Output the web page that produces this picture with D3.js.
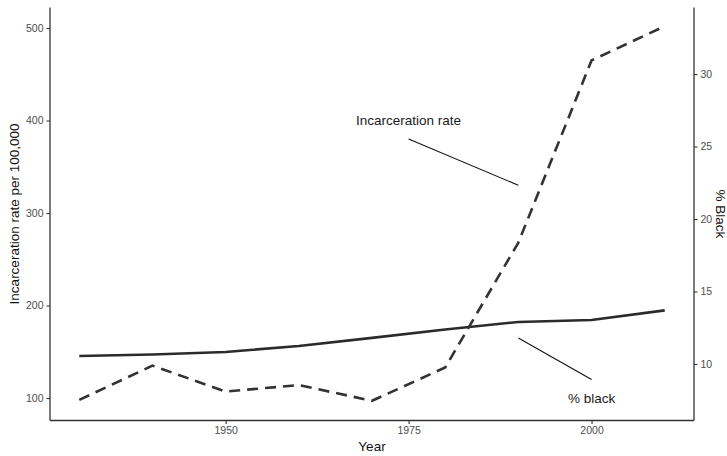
<!DOCTYPE html>
<html>
<head>
<meta charset="utf-8">
<script src="https://cdn.jsdelivr.net/npm/d3@7"></script>
<style>
  body { margin: 0; background: #fff; }
  svg { display: block; font-family: "Liberation Sans", Arial, sans-serif; }
</style>
</head>
<body>
<svg id="board" width="727" height="456"></svg>
<script>
var years = [1930, 1940, 1950, 1960, 1970, 1980, 1990, 2000, 2010];
var incarcerationRate = [98, 135, 107, 114, 97, 133, 268, 465, 502];
var percentBlack = [10.55, 10.65, 10.83, 11.24, 11.8, 12.38, 12.9, 13.03, 13.7];

var xTicks = [1950, 1975, 2000];
var leftTicks = [100, 200, 300, 400, 500];
var rightTicks = [10, 15, 20, 25, 30];

var labels = [
  { text: 'Incarceration rate', year: 1975, value: 400 },
  { text: '% black', year: 2000, value: 100 }
];
var pointers = [
  { from: [1975, 380], to: [1990, 330] },
  { from: [1990, 165], to: [2000, 120] }
];

var panel = { left: 50, right: 694, top: 7.4, bottom: 420.5 };

var board = d3.select('#board');

var x = d3.scaleLinear().domain([1926, 2014]).range([panel.left, panel.right]);
var yLeft = d3.scaleLinear().domain([75.7, 522.3]).range([panel.bottom, panel.top]);
var yRight = d3.scaleLinear().domain([6.1, 34.6]).range([panel.bottom, panel.top]);

var rows = years.map((year, i) => ({
  year,
  rate: incarcerationRate[i],
  black: percentBlack[i]
}));

drawLines();
drawAnnotations();
drawAxes();

function drawLines() {
  var rateLine = d3.line().x(d => x(d.year)).y(d => yLeft(d.rate));
  var blackLine = d3.line().x(d => x(d.year)).y(d => yRight(d.black));

  board
    .append('path')
    .datum(rows)
    .attr('d', blackLine)
    .attr('fill', 'none')
    .attr('stroke', '#2b2b2b')
    .attr('stroke-width', 2.6)
    .attr('stroke-linejoin', 'round');

  board
    .append('path')
    .datum(rows)
    .attr('d', rateLine)
    .attr('fill', 'none')
    .attr('stroke', '#333')
    .attr('stroke-width', 2.6)
    .attr('stroke-dasharray', '11,7');
}

function drawAnnotations() {
  board
    .selectAll('.pointer')
    .data(pointers)
    .enter()
    .append('line')
    .classed('pointer', true)
    .attr('x1', d => x(d.from[0]))
    .attr('y1', d => yLeft(d.from[1]))
    .attr('x2', d => x(d.to[0]))
    .attr('y2', d => yLeft(d.to[1]))
    .attr('stroke', '#111')
    .attr('stroke-width', 1.1);

  board
    .selectAll('.label')
    .data(labels)
    .enter()
    .append('text')
    .classed('label', true)
    .attr('x', d => x(d.year))
    .attr('y', d => yLeft(d.value))
    .attr('dy', '0.35em')
    .attr('text-anchor', 'middle')
    .attr('font-size', 13.5)
    .attr('fill', '#1a1a1a')
    .text(d => d.text);
}

function drawAxes() {
  var bottom = board
    .append('g')
    .attr('transform', `translate(0, ${panel.bottom})`)
    .call(d3.axisBottom(x).tickValues(xTicks).tickFormat(d3.format('d')).tickSize(3.5).tickPadding(3));
  var left = board
    .append('g')
    .attr('transform', `translate(${panel.left}, 0)`)
    .call(d3.axisLeft(yLeft).tickValues(leftTicks).tickSize(3.5).tickPadding(3));
  var right = board
    .append('g')
    .attr('transform', `translate(${panel.right}, 0)`)
    .call(d3.axisRight(yRight).tickValues(rightTicks).tickSize(3.5).tickPadding(3));

  [bottom, left, right].forEach(styleAxis);

  // ggplot style: axis lines span the full panel, no end ticks
  bottom.select('.domain').attr('d', `M${panel.left},0H${panel.right}`);
  left.select('.domain').attr('d', `M0,${panel.top}V${panel.bottom}`);
  right.select('.domain').attr('d', `M0,${panel.top}V${panel.bottom}`);

  board
    .append('text')
    .attr('x', (panel.left + panel.right) / 2)
    .attr('y', 451)
    .attr('text-anchor', 'middle')
    .attr('font-size', 13.5)
    .attr('fill', '#111')
    .text('Year');

  board
    .append('text')
    .attr('transform', `translate(19, ${(panel.top + panel.bottom) / 2}) rotate(-90)`)
    .attr('text-anchor', 'middle')
    .attr('font-size', 13.5)
    .attr('fill', '#111')
    .text('Incarceration rate per 100,000');

  board
    .append('text')
    .attr('transform', `translate(716, ${(panel.top + panel.bottom) / 2}) rotate(90)`)
    .attr('text-anchor', 'middle')
    .attr('font-size', 13.5)
    .attr('fill', '#111')
    .text('% Black');
}

function styleAxis(axis) {
  axis.select('.domain').attr('stroke', '#333').attr('stroke-width', 1.3);
  axis.selectAll('.tick line').attr('stroke', '#333').attr('stroke-width', 1.1);
  axis
    .selectAll('.tick text')
    .attr('fill', '#4d4d4d')
    .attr('font-size', 10.5)
    .attr('font-family', '"Liberation Sans", Arial, sans-serif');
}
</script>
</body>
</html>
